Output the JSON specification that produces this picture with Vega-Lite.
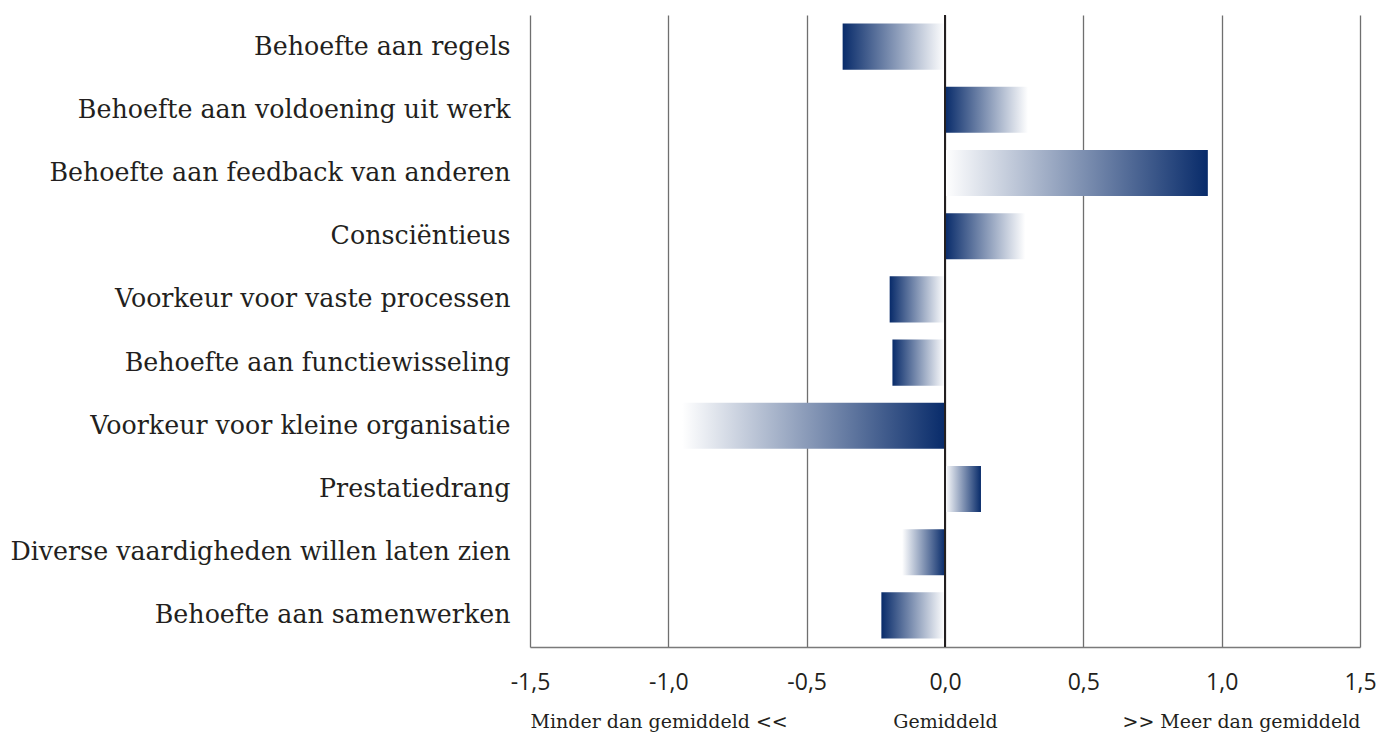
{
  "$schema": "https://vega.github.io/schema/vega-lite/v6.json",
  "width": 830,
  "height": 632,
  "autosize": "none",
  "padding": {"left": 530, "top": 15, "right": 30, "bottom": 88},
  "background": "white",
  "config": {"view": {"stroke": null}},
  "data": {
    "values": [
      {"name": "Behoefte aan regels", "value": -0.37},
      {"name": "Behoefte aan voldoening uit werk", "value": 0.30},
      {"name": "Behoefte aan feedback van anderen", "value": 0.95},
      {"name": "Consciëntieus", "value": 0.29},
      {"name": "Voorkeur voor vaste processen", "value": -0.20},
      {"name": "Behoefte aan functiewisseling", "value": -0.19},
      {"name": "Voorkeur voor kleine organisatie", "value": -0.95},
      {"name": "Prestatiedrang", "value": 0.13},
      {"name": "Diverse vaardigheden willen laten zien", "value": -0.155},
      {"name": "Behoefte aan samenwerken", "value": -0.23}
    ]
  },
  "layer": [
    {
      "mark": {"type": "bar"},
      "encoding": {
        "y": {
          "field": "name",
          "type": "nominal",
          "sort": null,
          "scale": {"paddingInner": 0.27, "paddingOuter": 0.135},
          "axis": {
            "title": null,
            "ticks": false,
            "domain": false,
            "labelFont": "DejaVu Serif",
            "labelFontSize": 25.3,
            "labelColor": "#231f20",
            "labelPadding": 20,
            "labelLimit": 600
          }
        },
        "x": {
          "field": "value",
          "type": "quantitative",
          "scale": {"domain": [-1.5, 1.5], "nice": false, "zero": false},
          "axis": {
            "title": null,
            "orient": "bottom",
            "values": [-1.5, -1, -0.5, 0, 0.5, 1, 1.5],
            "labelExpr": "replace(replace(format(datum.value, '.1f'), '.', ','), '\u2212', '-')",
            "ticks": false,
            "domainColor": "#7a7a7a",
            "domainWidth": 1.5,
            "grid": true,
            "gridColor": "#6f6f6f",
            "gridWidth": 1.3,
            "gridOpacity": 1,
            "labelFont": "Open Sans",
            "labelFontSize": 23,
            "labelColor": "#231f20",
            "labelPadding": 24,
            "labelFlush": false,
            "labelOverlap": false
          }
        },
        "fill": {
          "condition": {
            "test": "indexof(['Behoefte aan feedback van anderen', 'Voorkeur voor kleine organisatie', 'Prestatiedrang', 'Diverse vaardigheden willen laten zien'], datum.name) >= 0",
            "value": {
              "gradient": "linear", "x1": 0, "x2": 1, "y1": 0, "y2": 0,
              "stops": [{"offset": 0, "color": "#ffffff"}, {"offset": 1, "color": "#082b6a"}]
            }
          },
          "value": {
            "gradient": "linear", "x1": 0, "x2": 1, "y1": 0, "y2": 0,
            "stops": [{"offset": 0, "color": "#082b6a"}, {"offset": 1, "color": "#ffffff"}]
          }
        }
      }
    },
    {
      "mark": {"type": "rule", "color": "#231f20", "strokeWidth": 2},
      "encoding": {
        "x": {
          "datum": 0,
          "type": "quantitative",
          "axis": {
            "title": null,
            "orient": "bottom",
            "values": [-1.5, 0, 1.5],
            "labelExpr": "datum.value < 0 ? 'Minder dan gemiddeld <<' : (datum.value > 0 ? '>> Meer dan gemiddeld' : 'Gemiddeld')",
            "labelFlush": true,
            "labelOverlap": false,
            "labelLimit": 500,
            "domain": false,
            "ticks": false,
            "grid": false,
            "labelFont": "DejaVu Serif",
            "labelFontSize": 19,
            "labelColor": "#231f20",
            "labelPadding": 65
          }
        }
      }
    }
  ],
  "resolve": {"axis": {"x": "independent"}}
}
